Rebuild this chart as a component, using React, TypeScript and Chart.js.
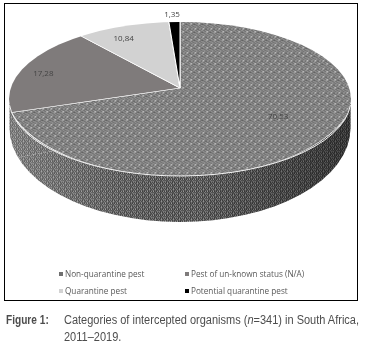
import React, { useEffect, useRef } from "react";
import { Chart, registerables } from "chart.js";

Chart.register(...registerables);

const categories = ["Non-quarantine pest", "Pest of un-known status (N/A)", "Quarantine pest", "Potential quarantine pest"];
const values = [70.53, 17.28, 10.84, 1.35];
const swatches = ["#6f6f6f", "#7f7b7b", "#d2d2d2", "#000000"];
const labelReach = [0.72, 0.83, 0.8, 1.1];
const legendRows = [[0, 1], [2, 3]];

const TOP = { apexY: 88, sx: 1.03, k: 0.52, ex: 180, ey: 99, ea: 171, eb: 77 };
const WALL = { y: 128, b: 94, shoulder: 104 };

function tile(rows: string[], map: Record<string, string>, sx: number, sy: number) {
  const c = document.createElement("canvas");
  c.height = rows.length;
  c.width = rows[0].length;
  const g = c.getContext("2d")!;
  rows.forEach((r, y) => {
    for (let x = 0; x < r.length; x++) {
      g.fillStyle = map[r[x]];
      g.fillRect(x, y, 1, 1);
    }
  });
  const p = g.createPattern(c, "repeat")!;
  p.setTransform(new DOMMatrix().scale(1 / sx, 1 / sy));
  return p;
}

const topRows = [
  "dbacbbac",
  "baacabcb",
  "acbbacbb",
  "bbcadbac",
  "cabbbaac",
  "bacbacbb",
  "abbcbbca",
  "cbabcabb",
];
const topMap = { a: "#7a7a7a", b: "#9a9a9a", c: "#5e5e5e", d: "#f0f0f0" };
const wallRows = [
  "acbcac",
  "cbcacb",
  "acbcab",
  "bcacbc",
  "cbabca",
  "acbcbc",
];
const wallMap = { a: "#969696", b: "#666666", c: "#3c3c3c" };

function withFill(el: any, fill: any, draw: () => void) {
  const orig = el.options;
  el.options = Object.assign(Object.create(orig), { backgroundColor: fill, borderWidth: 0 });
  draw();
  el.options = orig;
}

const pie3d = {
  id: "pie3d",
  beforeDatasetsDraw(chart: any) {
    const ctx = chart.ctx as CanvasRenderingContext2D;
    const meta = chart.getDatasetMeta(0);
    const first = meta.data[0];
    const cx = first.x, cy = first.y, R = first.outerRadius;

    // side wall
    const wallK = 1.2 * (WALL.b / R);
    const wallPattern = tile(wallRows, wallMap, 1.05, wallK);
    const wallPath = () => {
      ctx.beginPath();
      ctx.ellipse(cx, WALL.y, R, WALL.b, 0, 0, Math.PI);
      ctx.lineTo(cx - R, WALL.shoulder);
      ctx.lineTo(cx + R, WALL.shoulder);
      ctx.closePath();
    };
    ctx.save();
    wallPath();
    ctx.clip();
    ctx.translate(cx, WALL.y);
    ctx.scale(1.05, wallK);
    ctx.translate(-cx, -cy);
    meta.data.forEach((el: any) => withFill(el, wallPattern, () => el.draw(ctx)));
    ctx.restore();

    // shade of the wall, light on the left, dark on the right
    const g = ctx.createLinearGradient(cx - R, 0, cx + R, 0);
    g.addColorStop(0, "rgba(255,255,255,0.22)");
    g.addColorStop(0.3, "rgba(255,255,255,0.05)");
    g.addColorStop(0.55, "rgba(0,0,0,0)");
    g.addColorStop(1, "rgba(0,0,0,0.42)");
    ctx.save();
    wallPath();
    ctx.fillStyle = g;
    ctx.fill();
    ctx.restore();

    // top surface
    const topPattern = tile(topRows, topMap, TOP.sx, TOP.k);
    ctx.save();
    ctx.beginPath();
    ctx.ellipse(TOP.ex, TOP.ey, TOP.ea, TOP.eb, 0, 0, Math.PI * 2);
    ctx.clip();
    ctx.translate(cx, TOP.apexY);
    ctx.scale(TOP.sx, TOP.k);
    ctx.translate(-cx, -cy);
    meta.data.forEach((el: any, i: number) => {
      if (i === 0) {
        const orig = el.options;
        el.options = Object.assign(Object.create(orig), { backgroundColor: topPattern });
        el.draw(ctx);
        el.options = orig;
      } else {
        el.draw(ctx);
      }
    });
    ctx.restore();

    // light rim
    ctx.save();
    ctx.strokeStyle = "#f2f2f2";
    ctx.lineWidth = 1;
    ctx.beginPath();
    ctx.ellipse(TOP.ex, TOP.ey, TOP.ea, TOP.eb, 0, 0.08, Math.PI - 0.08);
    ctx.stroke();
    ctx.restore();

    // value labels
    ctx.save();
    ctx.font = '8px "Open Sans", sans-serif';
    ctx.textAlign = "center";
    ctx.textBaseline = "middle";
    meta.data.forEach((el: any, i: number) => {
      const mid = (el.startAngle + el.endAngle) / 2;
      const r = el.outerRadius * labelReach[i];
      const x = cx + Math.cos(mid) * r;
      const y = TOP.apexY + Math.sin(mid) * r * (67 / R);
      ctx.fillStyle = "#444444";
      ctx.fillText(values[i].toFixed(2).replace(".", ","), x, y);
    });
    ctx.restore();
    return false;
  },
};

export default function App() {
  const ref = useRef<HTMLCanvasElement>(null);
  useEffect(() => {
    const chart = new Chart(ref.current!, {
      type: "pie",
      data: {
        labels: categories,
        datasets: [{
          data: values,
          backgroundColor: swatches,
          borderColor: "#ffffff",
          borderWidth: 1,
        }],
      },
      options: {
        animation: false,
        responsive: false,
        layout: { padding: { left: 9, right: 16, top: 0, bottom: 0 } },
        plugins: { legend: { display: false }, tooltip: { enabled: false } },
      },
      plugins: [pie3d],
    } as any);
    return () => chart.destroy();
  }, []);

  const legendText: React.CSSProperties = {
    position: "absolute",
    font: '8.2px "Open Sans", sans-serif',
    color: "#595959",
    whiteSpace: "nowrap",
    lineHeight: "10px",
  };
  const captionText: React.CSSProperties = {
    position: "absolute",
    font: '12.5px "Liberation Sans", sans-serif',
    color: "#4d4d4d",
    whiteSpace: "nowrap",
    lineHeight: "14px",
    transformOrigin: "0 0",
    transform: "scaleX(0.88)",
  };

  return (
    <div style={{ position: "fixed", left: 0, top: 0, width: 367, height: 353, background: "#fff", overflow: "hidden", filter: "blur(0.3px)" }}>
      <div style={{ position: "absolute", left: 4, top: 3, width: 352, height: 296, border: "1px solid #000" }} />
      <canvas ref={ref} width={367} height={353} style={{ position: "absolute", left: 0, top: 0 }} />
      {legendRows.map((row, r) =>
        row.map((idx, c) => (
          <React.Fragment key={idx}>
            <div style={{ position: "absolute", left: c === 0 ? 59 : 185, top: 272 + r * 17, width: 4, height: 4, background: swatches[idx] }} />
            <div style={{ ...legendText, left: c === 0 ? 65 : 191, top: 269 + r * 17 }}>{categories[idx]}</div>
          </React.Fragment>
        ))
      )}
      <div style={{ ...captionText, left: 6, top: 313, fontWeight: 700, transform: "scaleX(0.81)" }}>Figure 1:</div>
      <div style={{ ...captionText, left: 64, top: 313 }}>
        Categories of intercepted organisms (<i>n</i>=341) in South Africa,
      </div>
      <div style={{ ...captionText, left: 64, top: 330 }}>2011–2019.</div>
    </div>
  );
}
